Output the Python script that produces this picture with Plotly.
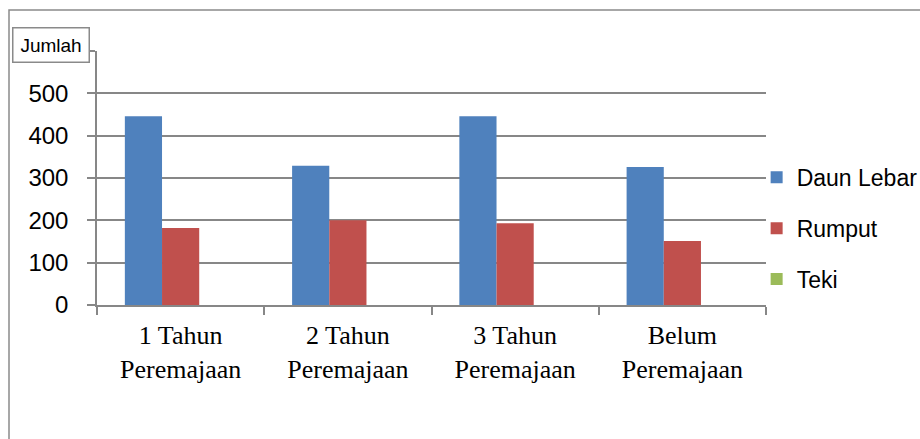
import plotly.graph_objects as go

# Jumlah gulma per kelompok umur peremajaan
categories = ["1 Tahun<br>Peremajaan", "2 Tahun<br>Peremajaan",
              "3 Tahun<br>Peremajaan", "Belum<br>Peremajaan"]
daun_lebar = [446, 329, 446, 326]
rumput = [182, 200, 193, 151]
teki = [0, 0, 0, 0]

y_ticks = [0, 100, 200, 300, 400, 500, 600]
y_ticktext = ["0", "100", "200", "300", "400", "500", ""]

GRID = "#878787"
fig = go.Figure()
for name, vals, col in [("Daun Lebar", daun_lebar, "#4F81BD"),
                        ("Rumput", rumput, "#C0504D"),
                        ("Teki", teki, "#9BBB59")]:
    fig.add_trace(go.Bar(name=name, x=categories, y=vals, marker_color=col,
                         marker_line_width=0, legendgroup=name))

fig.update_layout(
    width=920, height=439,
    margin=dict(l=97, r=154, t=51, b=134, autoexpand=False),
    paper_bgcolor="white", plot_bgcolor="white",
    barmode="group", bargap=0.333, bargroupgap=0,
    font=dict(family="Liberation Sans, Arial", color="black"),
    showlegend=True,
    legend=dict(x=0.986, xanchor="left", y=0.302, yanchor="middle",
                font=dict(size=23, family="Liberation Sans, Arial"),
                tracegroupgap=18, itemwidth=30, bgcolor="rgba(0,0,0,0)"),
    xaxis=dict(showline=True, linecolor=GRID, linewidth=1.5,
               ticks="outside", ticklen=8, tickcolor=GRID, tickwidth=1.5,
               tickson="boundaries", showgrid=False, ticklabelstandoff=6,
               tickfont=dict(family="Liberation Serif, Times New Roman", size=26)),
    yaxis=dict(range=[0, 600], tickvals=y_ticks, ticktext=y_ticktext,
               showline=True, linecolor=GRID, linewidth=1.5,
               ticks="outside", ticklen=8, tickcolor=GRID, tickwidth=1.5,
               showgrid=True, gridcolor=GRID, gridwidth=1.5,
               zeroline=False, ticklabelstandoff=14,
               tickfont=dict(size=24)),
    shapes=[
        # outer chart frame
        dict(type="rect", xref="paper", yref="paper",
             x0=(9 - 97) / 669, x1=(930 - 97) / 669,
             y0=(305 - 450) / 254, y1=(305 - 10) / 254,
             line=dict(color="#8a8a8a", width=1.5), layer="below"),
    ],
    annotations=[
        dict(text="Jumlah", xref="paper", yref="paper",
             x=(12 - 97) / 669, y=(305 - 27) / 254,
             xanchor="left", yanchor="top", showarrow=False,
             font=dict(size=19, family="Liberation Sans, Arial", color="black"),
             bgcolor="white", bordercolor="#8a8a8a", borderwidth=1.5,
             borderpad=1, width=73, height=31),
    ],
)

fig.write_html("out.html")
